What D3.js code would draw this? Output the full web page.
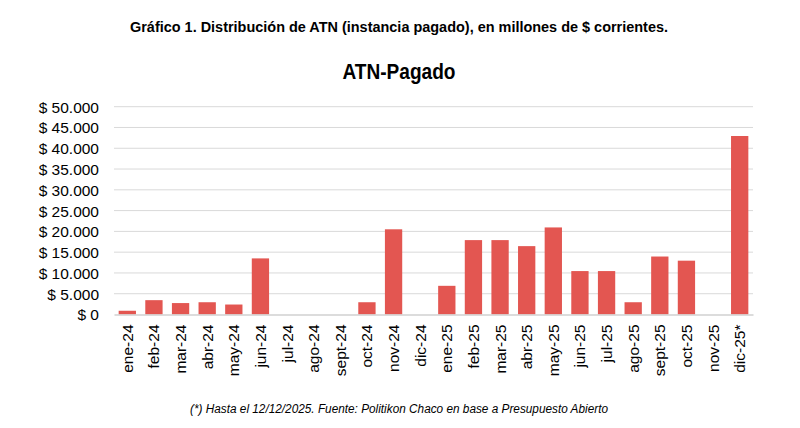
<!DOCTYPE html>
<html lang="es">
<head>
  <meta charset="UTF-8">
  <script src="https://d3js.org/d3.v7.min.js"></script>
  <style>
    body { margin: 0; background: #fff; font-family: 'Liberation Sans', Arial, sans-serif; }
    .grid line { stroke: #d9d9d9; stroke-width: 1px; }
    .bar { fill: #e35651; }
    .tick text { fill: #000; }
  </style>
</head>
<body>
<script>
  const months = ["ene-24","feb-24","mar-24","abr-24","may-24","jun-24","jul-24","ago-24","sept-24","oct-24","nov-24","dic-24",
                  "ene-25","feb-25","mar-25","abr-25","may-25","jun-25","jul-25","ago-25","sept-25","oct-25","nov-25","dic-25*"];
  const pagado = [900, 3450, 2750, 2950, 2400, 13500, 0, 0, 0, 2950, 20500, 0,
                  6900, 17900, 17900, 16450, 20950, 10450, 10450, 2950, 13950, 12950, 0, 42950];
  const yTicks = [0, 5000, 10000, 15000, 20000, 25000, 30000, 35000, 40000, 45000, 50000];

  const W = 800, H = 428;
  const svg = d3.select("body").append("svg").attr("width", W).attr("height", H);

  const x = d3.scaleBand().domain(months).range([114, 753]).paddingInner(0.35).paddingOuter(0.175);
  const y = d3.scaleLinear().domain([0, 50000]).range([314.5, 106.7]);

  const fmt = v => "$ " + d3.format(",")(v).replace(/,/g, ".");

  // titles (condensed look via textLength)
  svg.append("text").attr("x", 399).attr("y", 32).attr("text-anchor", "middle")
    .attr("textLength", 538).attr("lengthAdjust", "spacingAndGlyphs")
    .style("font-weight", "bold").style("font-size", "15.5px")
    .text("Gráfico 1. Distribución de ATN (instancia pagado), en millones de $ corrientes.");

  svg.append("text").attr("x", 399).attr("y", 79).attr("text-anchor", "middle")
    .attr("textLength", 113).attr("lengthAdjust", "spacingAndGlyphs")
    .style("font-weight", "bold").style("font-size", "22px")
    .text("ATN-Pagado");

  // gridlines
  svg.append("g").attr("class", "grid")
    .selectAll("line").data(yTicks.slice(1)).enter().append("line")
    .attr("x1", 114).attr("x2", 753)
    .attr("y1", d => y(d)).attr("y2", d => y(d));

  // y axis
  const yAxis = svg.append("g").attr("transform", "translate(99,0)")
    .call(d3.axisLeft(y).tickValues(yTicks).tickFormat(fmt).tickSize(0).tickPadding(0));
  yAxis.select(".domain").remove();
  yAxis.selectAll("text").style("font-size", "15.5px").style("font-family", "'Liberation Sans', Arial, sans-serif")
    .attr("text-anchor", "end").attr("x", 0).attr("dy", "0.35em");

  // bars
  svg.selectAll(".bar").data(pagado).enter().append("rect")
    .attr("class", "bar")
    .attr("x", (d, i) => x(months[i]))
    .attr("width", x.bandwidth())
    .attr("y", d => y(d))
    .attr("height", d => y(0) - y(d));

  // x axis
  const xAxis = svg.append("g").attr("transform", `translate(0,${y(0)})`)
    .call(d3.axisBottom(x).tickSize(0).tickPadding(0));
  xAxis.select(".domain").attr("stroke", "#d0d0d0").attr("stroke-width", 1.5);
  xAxis.selectAll("text")
    .style("font-size", "15.5px").style("font-family", "'Liberation Sans', Arial, sans-serif")
    .attr("transform", "rotate(-90)")
    .attr("text-anchor", "end")
    .attr("x", -10).attr("y", 0).attr("dy", "0.35em");

  // footer
  svg.append("text").attr("x", 399).attr("y", 413).attr("text-anchor", "middle")
    .attr("textLength", 418).attr("lengthAdjust", "spacingAndGlyphs")
    .style("font-style", "italic").style("font-size", "12.5px")
    .text("(*) Hasta el 12/12/2025. Fuente: Politikon Chaco en base a Presupuesto Abierto");
</script>
</body>
</html>
